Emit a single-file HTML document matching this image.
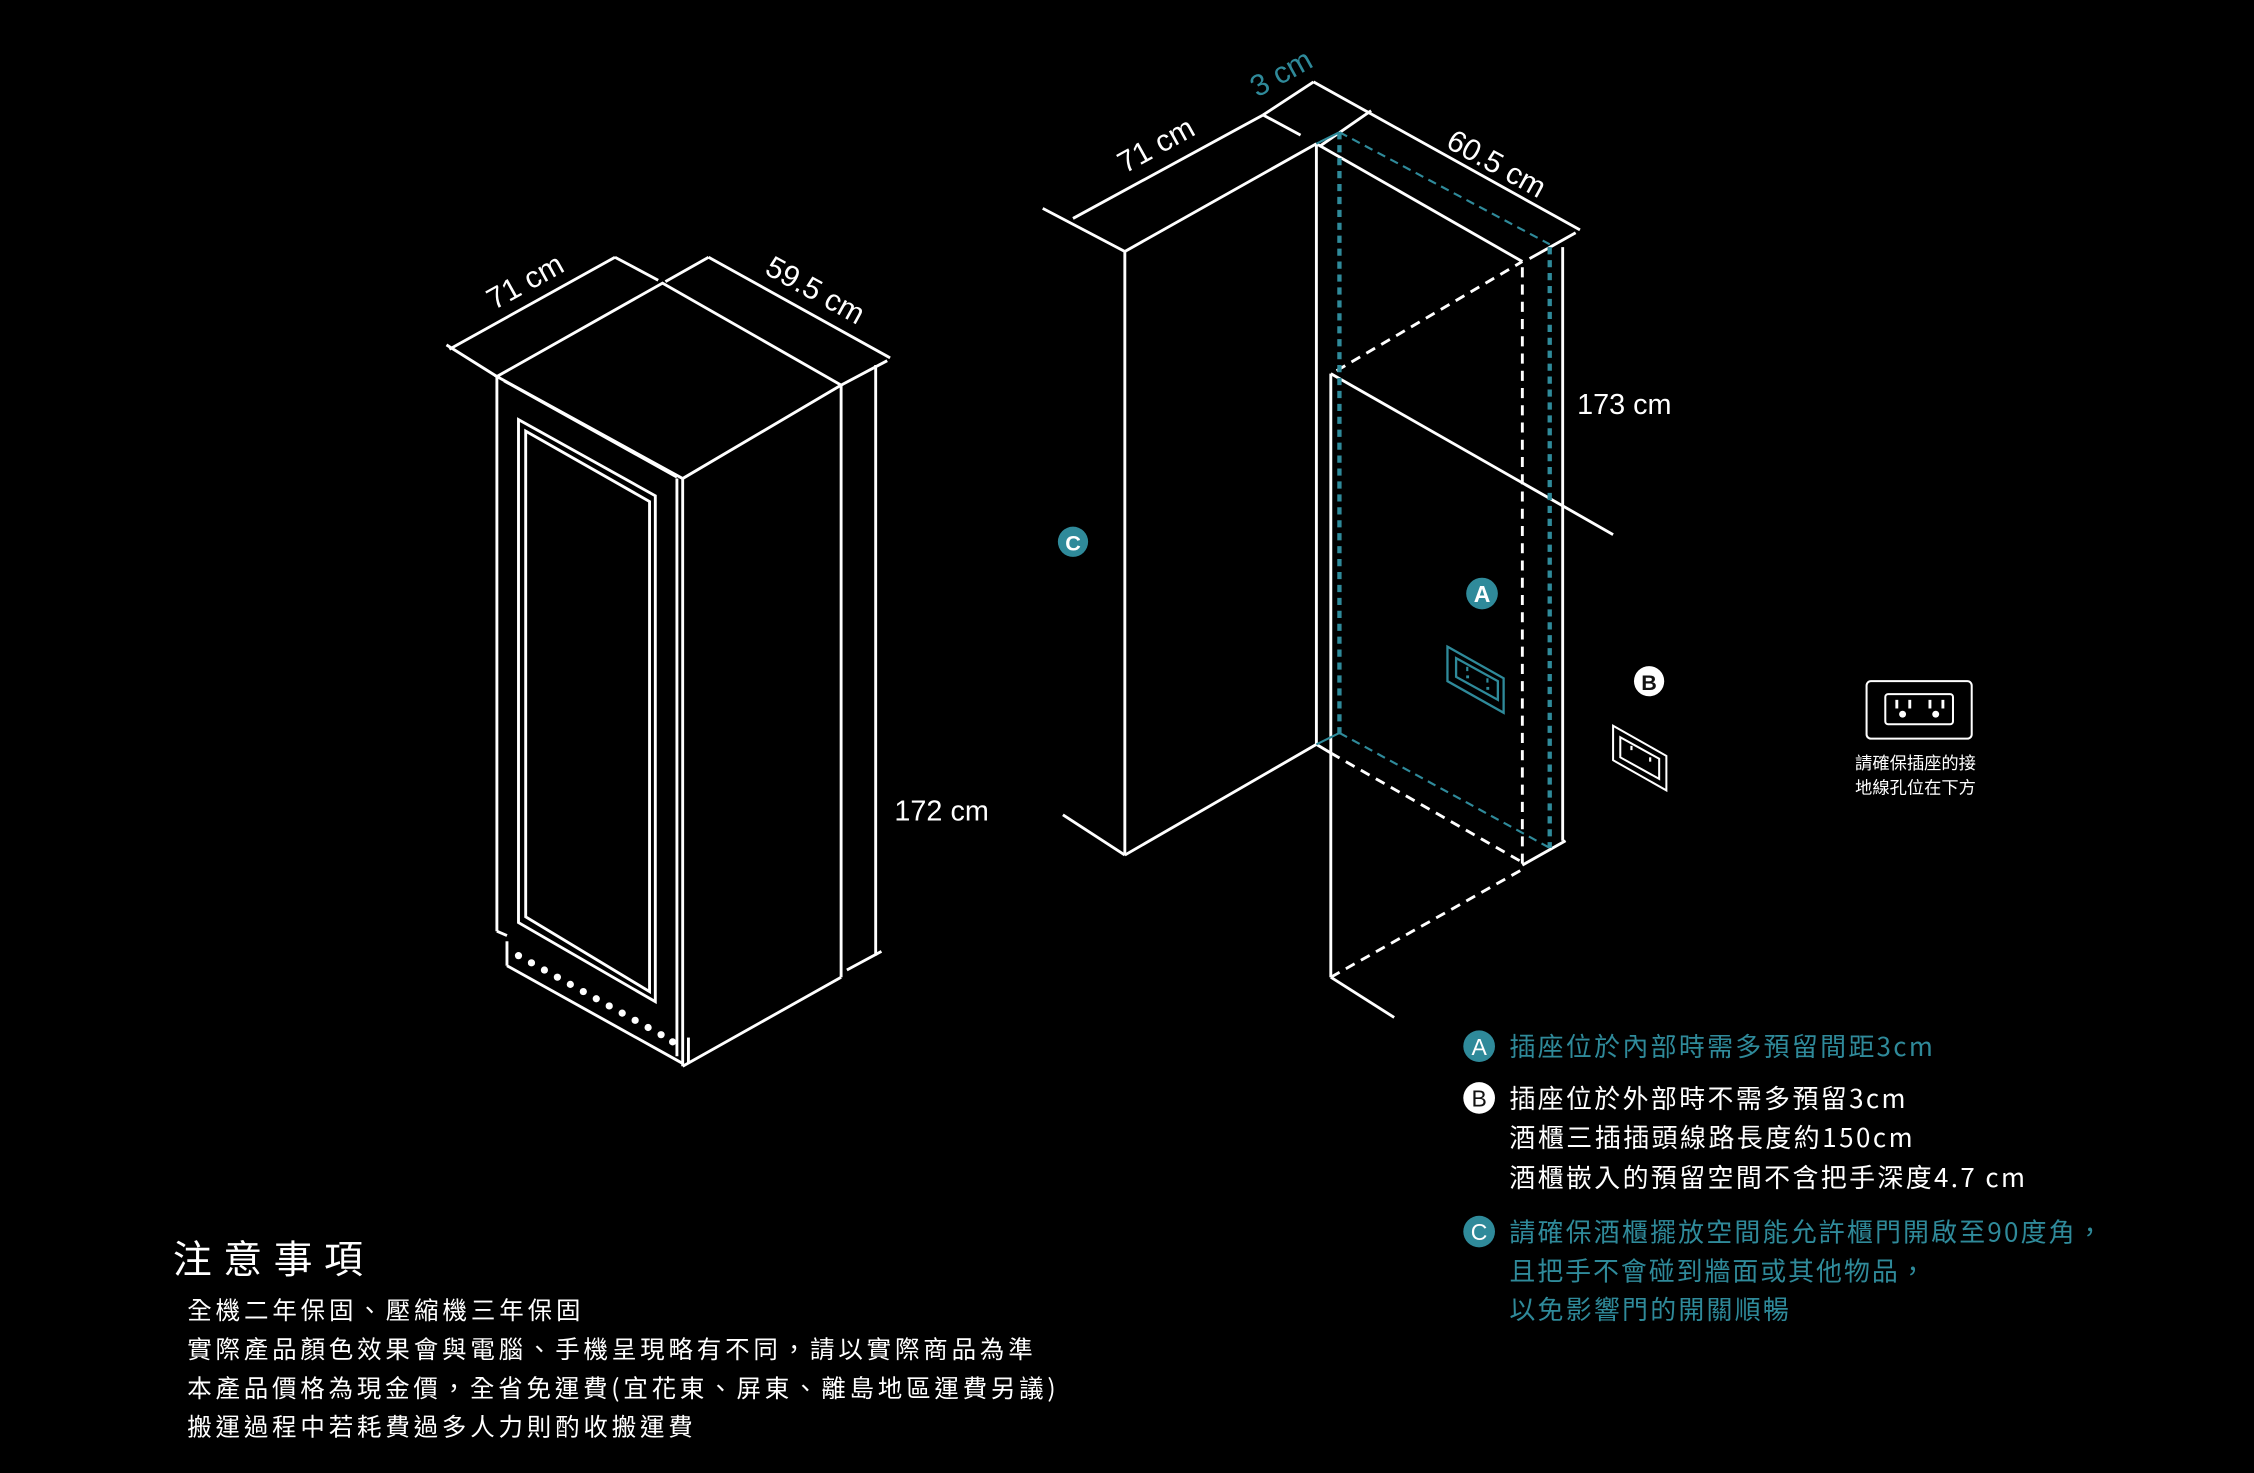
<!DOCTYPE html>
<html><head><meta charset="utf-8"><style>
html,body{margin:0;padding:0;background:#000;}
svg{display:block;}
text{font-family:"Liberation Sans","Noto Sans CJK TC",sans-serif;}
.cj{font-family:"Noto Sans CJK TC","Liberation Sans",sans-serif;}
</style></head><body>
<svg width="2254" height="1473" viewBox="0 0 1565 1025" preserveAspectRatio="none" xmlns="http://www.w3.org/2000/svg">
<rect width="1565" height="1025" fill="#000"/>
<g stroke="#fff" stroke-width="2" fill="none" stroke-linejoin="miter">
 <line x1="312" y1="243" x2="427" y2="179"/>
 <line x1="310" y1="240" x2="345" y2="262"/>
 <line x1="427" y1="179" x2="457" y2="195"/>
 <line x1="492" y1="179" x2="618" y2="249"/>
 <line x1="462" y1="196" x2="492" y2="179"/>
 <line x1="584" y1="268" x2="616" y2="251"/>
 <line x1="608" y1="254" x2="608" y2="665"/>
 <line x1="588" y1="675" x2="612" y2="662"/>
 <polygon points="345,262 460,197 584,268 474,333"/>
 <line x1="350" y1="265" x2="470" y2="332"/>
 <line x1="345" y1="262" x2="345" y2="648"/>
 <line x1="345" y1="648" x2="352" y2="651"/>
 <line x1="474" y1="333" x2="474" y2="742"/>
 <line x1="470" y1="333" x2="470" y2="735"/>
 <polygon points="360,292 455,345 455,697 360,642"/>
 <polygon points="365,300 451,349 451,690 365,638"/>
 <line x1="584" y1="268" x2="584" y2="680"/>
 <line x1="584" y1="680" x2="474" y2="742"/>
 <line x1="352" y1="655" x2="352" y2="672"/>
 <line x1="352" y1="672" x2="474" y2="740"/>
 <line x1="478" y1="722" x2="478" y2="740"/>
</g>
<g fill="#fff">
 <circle cx="360" cy="665" r="2.5"/><circle cx="369" cy="670" r="2.5"/><circle cx="378" cy="675" r="2.5"/><circle cx="387" cy="680" r="2.5"/><circle cx="396" cy="685" r="2.5"/><circle cx="405" cy="690" r="2.5"/><circle cx="414" cy="695" r="2.5"/><circle cx="423" cy="700" r="2.5"/><circle cx="432" cy="705" r="2.5"/><circle cx="441" cy="710" r="2.5"/><circle cx="450" cy="715" r="2.5"/><circle cx="459" cy="720" r="2.5"/><circle cx="467" cy="725" r="2.5"/>
</g>
<text x="0" y="0" font-size="21" fill="#fff" transform="translate(343,216) rotate(-29)">71 cm</text>
<text x="0" y="0" font-size="21" fill="#fff" transform="translate(530,190) rotate(29)">59.5 cm</text>
<text x="621" y="571" font-size="20" fill="#fff">172 cm</text>

<g stroke="#fff" stroke-width="2" fill="none">
 <line x1="724" y1="145" x2="781" y2="175"/>
 <line x1="781" y1="175" x2="914" y2="100"/>
 <line x1="781" y1="175" x2="781" y2="595"/>
 <line x1="738" y1="567" x2="781" y2="595"/>
 <line x1="781" y1="595" x2="914" y2="518"/>
 <line x1="914" y1="100" x2="914" y2="518"/>
 <line x1="914" y1="100" x2="1057" y2="182"/>
 <line x1="745" y1="152" x2="877" y2="80"/>
 <line x1="877" y1="80" x2="912" y2="57"/>
 <line x1="877" y1="80" x2="903" y2="94"/>
 <line x1="912" y1="57" x2="1097" y2="160"/>
 <line x1="916" y1="102" x2="952" y2="77"/>
 <line x1="1062" y1="180" x2="1094" y2="162"/>
 <line x1="1085" y1="172" x2="1085" y2="585"/>
 <line x1="1057" y1="602" x2="1087" y2="585"/>
 <line x1="924" y1="260" x2="924" y2="680"/>
 <line x1="924" y1="260" x2="1120" y2="372"/>
 <line x1="924" y1="680" x2="968" y2="708"/>
 <line x1="914" y1="518" x2="924" y2="524"/>
</g>
<g stroke="#fff" stroke-width="2" fill="none" stroke-dasharray="7 5">
 <line x1="928" y1="258" x2="1057" y2="182"/>
 <line x1="1057" y1="186" x2="1057" y2="605"/>
 <line x1="924" y1="680" x2="1057" y2="605"/>
 <line x1="924" y1="524" x2="1057" y2="600"/>
</g>
<g stroke="#2f8a9a" fill="none">
 <line x1="930" y1="92" x2="930" y2="512" stroke-width="3" stroke-dasharray="5 4"/>
 <line x1="1076" y1="172" x2="1076" y2="590" stroke-width="3" stroke-dasharray="5 4"/>
 <line x1="930" y1="92" x2="1076" y2="170" stroke-width="1.5" stroke-dasharray="6 4"/>
 <line x1="930" y1="510" x2="1076" y2="590" stroke-width="1.5" stroke-dasharray="6 4"/>
 <line x1="914" y1="100" x2="930" y2="92" stroke-width="1.5"/>
 <line x1="914" y1="518" x2="930" y2="510" stroke-width="1.5"/>
 <polygon points="1005,450 1044,472 1044,496 1005,474" stroke-width="1.6"/>
 <polygon points="1011,458 1040,474 1040,487 1011,471" stroke-width="1.6"/>
</g>
<g fill="#2f8a9a"><rect x="1018" y="464" width="1.5" height="3"/><rect x="1032" y="472" width="1.5" height="3"/><rect x="1018" y="470" width="2" height="2"/><rect x="1032" y="478" width="2" height="2"/></g>
<g stroke="#fff" fill="none" stroke-width="1.4">
 <polygon points="1120,505 1157,526 1157,550 1120,529"/>
 <polygon points="1125,513 1152,528 1152,542 1125,527"/>
 <rect x="1296" y="474" width="73" height="40" rx="3"/>
 <rect x="1309" y="483" width="47" height="21" rx="2"/>
</g>
<g fill="#fff"><rect x="1316" y="487" width="2" height="6"/><rect x="1325" y="487" width="2" height="6"/><rect x="1339" y="487" width="2" height="6"/><rect x="1348" y="487" width="2" height="6"/><circle cx="1321" cy="497" r="2.4"/><circle cx="1344" cy="497" r="2.4"/>
<rect x="1132" y="519" width="1.5" height="3"/><rect x="1145" y="527" width="1.5" height="3"/></g>

<text x="0" y="0" font-size="21" fill="#2f8a9a" transform="translate(873,68) rotate(-29)">3 cm</text>
<text x="0" y="0" font-size="21" fill="#fff" transform="translate(781,121) rotate(-29)">71 cm</text>
<text x="0" y="0" font-size="21" fill="#fff" transform="translate(1003,102) rotate(29)">60.5 cm</text>
<text x="1095" y="288" font-size="20" fill="#fff">173 cm</text>

<circle cx="745" cy="377" r="10.5" fill="#2f8a9a"/><text x="745" y="383" font-size="15" font-weight="bold" fill="#fff" text-anchor="middle">C</text>
<circle cx="1029" cy="413" r="11" fill="#2f8a9a"/><text x="1029" y="419" font-size="16" font-weight="bold" fill="#fff" text-anchor="middle">A</text>
<circle cx="1145" cy="474" r="10.5" fill="#fff"/><text x="1145" y="480" font-size="15" font-weight="bold" fill="#111" text-anchor="middle">B</text>

<text class="cj" x="1288" y="535" font-size="12" fill="#fff">請確保插座的接</text>
<text class="cj" x="1288" y="552" font-size="12" fill="#fff">地線孔位在下方</text>

<circle cx="1027" cy="728" r="11" fill="#2f8a9a"/><text x="1027" y="734" font-size="16" fill="#fff" text-anchor="middle">A</text>
<circle cx="1027" cy="764" r="11" fill="#fff"/><text x="1027" y="770" font-size="16" fill="#111" text-anchor="middle">B</text>
<circle cx="1027" cy="857" r="11" fill="#2f8a9a"/><text x="1027" y="863" font-size="16" fill="#fff" text-anchor="middle">C</text>
<text class="cj" x="1048" y="735" font-size="18" fill="#2f8a9a" textLength="294" lengthAdjust="spacing">插座位於內部時需多預留間距3cm</text>
<text class="cj" x="1048" y="771" font-size="18" fill="#fff" textLength="275" lengthAdjust="spacing">插座位於外部時不需多預留3cm</text>
<text class="cj" x="1048" y="798" font-size="18" fill="#fff" textLength="280" lengthAdjust="spacing">酒櫃三插插頭線路長度約150cm</text>
<text class="cj" x="1048" y="826" font-size="18" fill="#fff" textLength="358" lengthAdjust="spacing">酒櫃嵌入的預留空間不含把手深度4.7 cm</text>
<text class="cj" x="1048" y="864" font-size="18" fill="#2f8a9a" textLength="412" lengthAdjust="spacing">請確保酒櫃擺放空間能允許櫃門開啟至90度角，</text>
<text class="cj" x="1048" y="891" font-size="18" fill="#2f8a9a" textLength="289" lengthAdjust="spacing">且把手不會碰到牆面或其他物品，</text>
<text class="cj" x="1048" y="918" font-size="18" fill="#2f8a9a" textLength="194" lengthAdjust="spacing">以免影響門的開關順暢</text>

<text class="cj" x="120" y="886" font-size="27" fill="#fff" textLength="132" lengthAdjust="spacing">注意事項</text>
<text class="cj" x="130" y="918" font-size="17" fill="#fff" textLength="273" lengthAdjust="spacing">全機二年保固、壓縮機三年保固</text>
<text class="cj" x="130" y="945" font-size="17" fill="#fff" textLength="587" lengthAdjust="spacing">實際產品顏色效果會與電腦、手機呈現略有不同，請以實際商品為準</text>
<text class="cj" x="130" y="972" font-size="17" fill="#fff" textLength="603" lengthAdjust="spacing">本產品價格為現金價，全省免運費(宜花東、屏東、離島地區運費另議)</text>
<text class="cj" x="130" y="999" font-size="17" fill="#fff" textLength="351" lengthAdjust="spacing">搬運過程中若耗費過多人力則酌收搬運費</text>
</svg>
</body></html>
